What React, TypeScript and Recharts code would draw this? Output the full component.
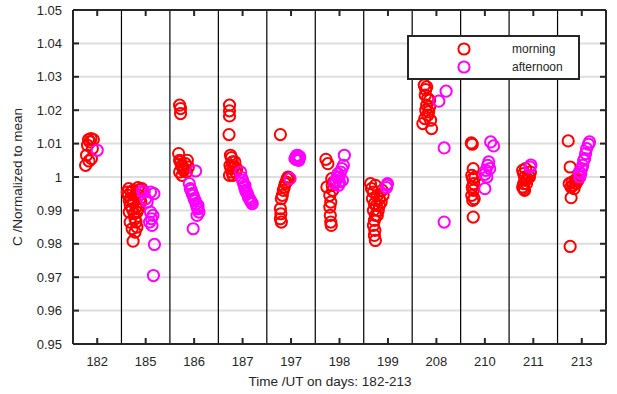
import React from 'react';
import { ScatterChart, Scatter, XAxis, YAxis, CartesianGrid, ReferenceLine } from 'recharts';

const days = ['182', '185', '186', '187', '197', '198', '199', '208', '210', '211', '213'];
const dayTicks = [0, 1, 2, 3, 4, 5, 6, 7, 8, 9, 10];
const yTicks = [0.95, 0.96, 0.97, 0.98, 0.99, 1.0, 1.01, 1.02, 1.03, 1.04, 1.05];
const separators = [0.5, 1.5, 2.5, 3.5, 4.5, 5.5, 6.5, 7.5, 8.5, 9.5];

// [time position on day axis, normalized C]
const morning: [number, number][] = [
  [-0.24, 1.0035], [-0.22, 1.0065], [-0.2, 1.0095], [-0.18, 1.0112], [-0.15, 1.0105], [-0.13, 1.0115],
  [-0.12, 1.0055], [-0.1, 1.0085], [-0.08, 1.0112], [-0.17, 1.0048],
  [0.64, 0.9945], [0.66, 0.993], [0.68, 0.9915], [0.7, 0.9955], [0.72, 0.9905], [0.74, 0.996],
  [0.76, 0.989], [0.78, 0.9875], [0.8, 0.9865], [0.82, 0.985], [0.78, 0.9835], [0.86, 0.9945],
  [0.74, 0.9808], [0.88, 0.9962], [0.9, 0.9925], [0.84, 0.9968],
  [0.62, 0.9955], [0.65, 0.9965], [0.7, 0.9935], [0.66, 0.9895], [0.68, 0.9865], [0.72, 0.9845],
  [0.75, 0.9925], [0.78, 0.9945], [0.8, 0.991], [0.82, 0.9895], [0.85, 0.9905], [0.88, 0.9935],
  [0.92, 0.9965],
  [1.7, 1.0215], [1.72, 1.0205], [1.72, 1.019], [1.68, 1.007], [1.7, 1.005], [1.72, 1.0045],
  [1.74, 1.0035], [1.76, 1.003], [1.78, 1.002], [1.8, 1.0025], [1.82, 1.004], [1.84, 1.0015],
  [1.7, 1.0015], [1.75, 1.0005], [1.86, 1.005], [1.88, 1.003],
  [2.73, 1.0215], [2.73, 1.0198], [2.73, 1.0183], [2.72, 1.0127], [2.75, 1.0065], [2.77, 1.0058],
  [2.79, 1.0045], [2.74, 1.0035], [2.76, 1.0025], [2.78, 1.0015], [2.8, 1.0005], [2.82, 1.003],
  [2.84, 1.0045], [2.86, 1.0015], [2.73, 1.0005], [2.88, 1.0025],
  [3.78, 1.0127], [3.8, 0.9865], [3.78, 0.9875], [3.79, 0.989], [3.78, 0.9905], [3.8, 0.9935],
  [3.82, 0.9945], [3.84, 0.996], [3.86, 0.997], [3.88, 0.998], [3.9, 0.9985], [3.92, 0.9995],
  [3.94, 1.0], [3.96, 0.9995],
  [4.72, 1.0053], [4.76, 1.004], [4.74, 0.997], [4.8, 0.9945], [4.82, 0.9925], [4.8, 0.991],
  [4.81, 0.9885], [4.82, 0.9865], [4.83, 0.9855], [4.85, 0.9975], [4.86, 0.996], [4.84, 0.9995],
  [4.88, 0.9985],
  [5.64, 0.998], [5.66, 0.9965], [5.7, 0.9955], [5.74, 0.9975], [5.78, 0.9945], [5.82, 0.9935],
  [5.68, 0.9935], [5.72, 0.992], [5.76, 0.9915], [5.8, 0.99], [5.86, 0.9925], [5.9, 0.9945],
  [5.7, 0.99], [5.74, 0.9885], [5.72, 0.987], [5.7, 0.9855], [5.73, 0.984], [5.72, 0.9825],
  [5.74, 0.981], [5.78, 0.9885], [5.82, 0.9915], [5.88, 0.996],
  [6.75, 1.0275], [6.8, 1.027], [6.78, 1.0262], [6.77, 1.0245], [6.82, 1.0235], [6.86, 1.023],
  [6.8, 1.0215], [6.78, 1.02], [6.84, 1.0195], [6.82, 1.0185], [6.76, 1.0175], [6.88, 1.017],
  [6.72, 1.016], [6.9, 1.0145], [6.86, 1.021],
  [7.72, 1.0102], [7.74, 1.0098], [7.76, 1.0025], [7.73, 1.0005], [7.75, 0.9995], [7.77, 0.998],
  [7.74, 0.997], [7.76, 0.996], [7.73, 0.9945], [7.75, 0.993], [7.78, 0.9935], [7.76, 0.988],
  [7.8, 1.0],
  [8.78, 1.002], [8.8, 1.001], [8.82, 1.0], [8.84, 0.999], [8.8, 0.998], [8.78, 0.997],
  [8.8, 0.9965], [8.82, 0.996], [8.86, 0.998], [8.88, 0.9995], [8.9, 1.0005], [8.92, 1.0],
  [8.94, 1.0015], [8.84, 1.0025],
  [9.72, 1.0108], [9.76, 1.003], [9.78, 0.9938], [9.76, 0.9792], [9.74, 0.998], [9.78, 0.997],
  [9.8, 0.9985], [9.82, 0.9975], [9.84, 0.9965], [9.86, 0.999], [9.88, 0.998], [9.9, 0.9995],
  [9.92, 0.999], [9.94, 1.0005],
];

const afternoon: [number, number][] = [
  [0.0, 1.008],
  [0.93, 0.9958], [0.97, 0.9955], [1.0, 0.9935], [1.03, 0.9925], [1.1, 0.9955], [1.1, 0.9895],
  [1.12, 0.9875], [1.08, 0.9865], [1.15, 0.9885], [1.13, 0.9855], [1.18, 0.9798], [1.16, 0.9705],
  [1.17, 0.995],
  [1.9, 0.998], [1.92, 0.9965], [1.94, 0.996], [1.96, 0.995], [1.98, 0.9945], [2.0, 0.9935],
  [2.02, 0.993], [2.04, 0.992], [2.06, 0.991], [2.08, 0.9905], [2.1, 0.9895], [2.06, 0.9885],
  [2.03, 1.0018], [1.98, 0.9845], [2.08, 0.9915],
  [2.96, 1.0015], [2.98, 0.9998], [3.0, 0.999], [3.02, 0.998], [3.04, 0.997], [3.06, 0.996],
  [3.08, 0.9955], [3.1, 0.995], [3.12, 0.994], [3.14, 0.9935], [3.16, 0.993], [3.18, 0.9925],
  [3.2, 0.992], [3.05, 0.9975],
  [3.98, 0.9995], [4.08, 1.0055], [4.1, 1.006], [4.12, 1.0065], [4.14, 1.0055], [4.16, 1.005],
  [4.18, 1.006], [4.11, 1.0052], [4.15, 1.0064], [4.13, 1.0057],
  [4.9, 0.998], [4.93, 0.999], [4.95, 1.0], [4.97, 1.001], [4.99, 1.0], [5.0, 0.9985],
  [5.02, 1.0015], [5.05, 1.0025], [5.08, 1.0035], [5.1, 1.0065], [5.06, 0.999], [4.98, 0.9975],
  [5.98, 0.9975], [5.99, 0.998], [5.97, 0.9968],
  [7.05, 1.0227], [7.2, 1.0257], [7.16, 1.0087], [7.16, 0.9865],
  [8.0, 1.0008], [8.02, 1.002], [8.06, 1.0035], [8.08, 1.0045], [8.12, 1.0105], [8.18, 1.0093],
  [8.0, 0.9965], [8.1, 1.0025], [8.04, 1.0],
  [8.95, 1.0036], [8.93, 1.003],
  [9.96, 1.0], [9.98, 1.001], [10.0, 1.0025], [10.02, 1.0035], [10.04, 1.005], [10.06, 1.0055],
  [10.08, 1.007], [10.1, 1.0085], [10.14, 1.0098], [10.16, 1.0105], [9.95, 1.0015],
];

const morningData = morning.map(([x, y]) => ({ x, y }));
const afternoonData = afternoon.map(([x, y]) => ({ x, y }));

const INK = '#262626';
const FONT = '"Liberation Sans", Arial, Helvetica, sans-serif';
const RED = '#ff0000';
const MAGENTA = '#ff00ff';

const fmtY = (v: number) => (Math.abs(v - 1) < 1e-9 ? '1' : v.toFixed(2));

const LeftTick = (p: any) => (
  <g>
    <line x1={p.x} x2={p.x + 6} y1={p.y} y2={p.y} stroke={INK} strokeWidth={2} />
    <text x={p.x - 11} y={p.y} dy="0.36em" textAnchor="end" fontSize={13} fontFamily={FONT} fill={INK}>
      {fmtY(p.payload.value)}
    </text>
  </g>
);
const RightTick = (p: any) => (
  <line x1={p.x} x2={p.x - 6} y1={p.y} y2={p.y} stroke={INK} strokeWidth={2} />
);
const BottomTick = (p: any) => (
  <g>
    <line x1={p.x} x2={p.x} y1={p.y} y2={p.y - 6} stroke={INK} strokeWidth={2} />
    <text x={p.x} y={p.y + 22} textAnchor="middle" fontSize={13} fontFamily={FONT} fill={INK}>
      {days[p.payload.value]}
    </text>
  </g>
);
const TopTick = (p: any) => (
  <line x1={p.x} x2={p.x} y1={p.y} y2={p.y + 6} stroke={INK} strokeWidth={2} />
);

const Ring = (color: string) => (p: any) => (
  <circle cx={p.cx} cy={p.cy} r={5.6} fill="none" stroke={color} strokeWidth={2} />
);

const XTitle = () => (
  <text x={330} y={386} textAnchor="middle" fontSize={13.5} fontFamily={FONT} fill={INK}>
    Time /UT on days: 182-213
  </text>
);
const YTitle = () => (
  <text x={22} y={177} transform="rotate(-90, 22, 177)" textAnchor="middle" fontSize={13.5} fontFamily={FONT} fill={INK}>
    C /Normalized to mean
  </text>
);

export default function App() {
  const axisLine = { stroke: INK, strokeWidth: 2 };
  return (
    <div style={{ position: 'absolute', left: 0, top: 0, width: 617, height: 394, background: '#fff' }}>
      <ScatterChart width={617} height={394} margin={{ top: 0, right: 0, bottom: 0, left: 0 }}>
        <CartesianGrid xAxisId="bottom" yAxisId="left" vertical={false} stroke="#dedede" strokeWidth={2} />
        <XAxis xAxisId="bottom" type="number" dataKey="x" domain={[-0.5, 10.5]} ticks={dayTicks}
          allowDataOverflow height={50} tickSize={0} tickMargin={0} tickLine={false} axisLine={axisLine}
          tick={<BottomTick />} label={() => <XTitle />} interval={0} />
        <XAxis xAxisId="top" orientation="top" type="number" dataKey="x" domain={[-0.5, 10.5]} ticks={dayTicks}
          allowDataOverflow height={10} tickSize={0} tickMargin={0} tickLine={false} axisLine={axisLine}
          tick={<TopTick />} interval={0} />
        <YAxis yAxisId="left" type="number" dataKey="y" domain={[0.95, 1.05]} ticks={yTicks}
          allowDataOverflow width={73} tickSize={0} tickMargin={0} tickLine={false} axisLine={axisLine}
          tick={<LeftTick />} label={() => <YTitle />} interval={0} />
        <YAxis yAxisId="right" orientation="right" type="number" dataKey="y" domain={[0.95, 1.05]} ticks={yTicks}
          allowDataOverflow width={11} tickSize={0} tickMargin={0} tickLine={false} axisLine={axisLine}
          tick={<RightTick />} interval={0} />
        {separators.map((s) => (
          <ReferenceLine key={s} xAxisId="bottom" yAxisId="left" x={s} stroke="#000" strokeWidth={1.2} />
        ))}
        <Scatter name="morning" data={morningData} xAxisId="bottom" yAxisId="left" dataKey="y"
          isAnimationActive={false} shape={Ring(RED)} />
        <Scatter name="afternoon" data={afternoonData} xAxisId="bottom" yAxisId="left" dataKey="y"
          isAnimationActive={false} shape={Ring(MAGENTA)} />
      </ScatterChart>
      <div style={{
        position: 'absolute', left: 407, top: 35, width: 169, height: 41, border: `2px solid ${INK}`,
        background: '#fff', fontFamily: FONT, fontSize: 12, color: INK,
      }}>
        <svg width={169} height={41} style={{ position: 'absolute', left: 0, top: 0 }}>
          <circle cx={55} cy={12} r={5.6} fill="none" stroke={RED} strokeWidth={2} />
          <circle cx={55} cy={30} r={5.6} fill="none" stroke={MAGENTA} strokeWidth={2} />
          <text x={103} y={12} dy="0.35em" fontSize={12} fontFamily={FONT} fill={INK}>morning</text>
          <text x={103} y={30} dy="0.35em" fontSize={12} fontFamily={FONT} fill={INK}>afternoon</text>
        </svg>
      </div>
    </div>
  );
}
